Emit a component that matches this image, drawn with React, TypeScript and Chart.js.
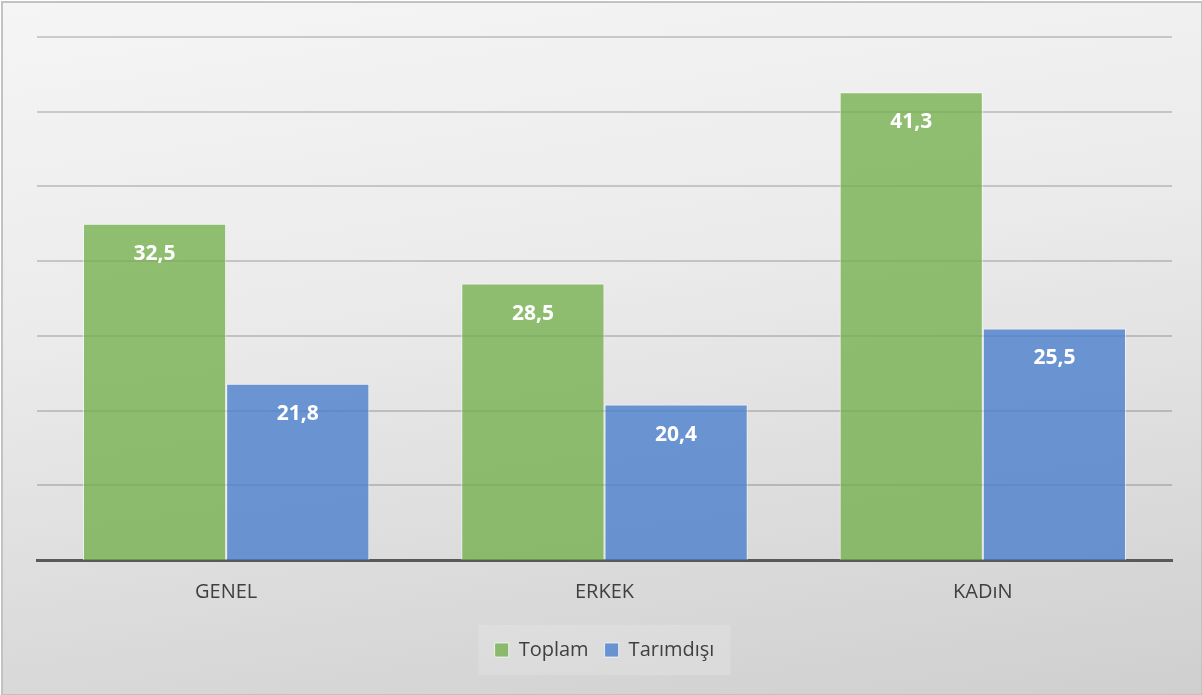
import React, { useEffect, useRef } from "react";
import { Chart, registerables } from "chart.js";

Chart.register(...registerables);

const categories = ["GENEL", "ERKEK", "KADıN"];
const seriesNames = ["Toplam", "Tarımdışı"];
const toplam = [32.5, 28.5, 41.3];
const tarimdisi = [21.8, 20.4, 25.5];
const yMin = 10;
const yMax = 45;
const yStep = 5;

const FONT = "'Open Sans', 'Noto Sans', sans-serif";

const labelPlugin = {
  id: "valueLabels",
  afterDatasetsDraw(chart: any) {
    const ctx = chart.ctx;
    ctx.save();
    ctx.fillStyle = "#ffffff";
    ctx.font = `bold 21px ${FONT}`;
    ctx.textAlign = "center";
    ctx.textBaseline = "middle";
    chart.data.datasets.forEach((ds: any, i: number) => {
      const meta = chart.getDatasetMeta(i);
      meta.data.forEach((bar: any, j: number) => {
        const v = ds.data[j];
        ctx.fillText(String(v).replace(".", ","), bar.x, bar.y + 30);
      });
    });
    ctx.restore();
  },
};

const legendBgPlugin = {
  id: "legendBg",
  beforeDraw(chart: any) {
    const lg = chart.legend;
    if (!lg || !lg.legendHitBoxes || !lg.legendHitBoxes.length) return;
    const hb = lg.legendHitBoxes;
    const ctx = chart.ctx;
    ctx.save();
    ctx.fillStyle = "rgba(255,255,255,0.16)";
    const w = 252;
    const cx = (hb[0].left + hb[hb.length - 1].left + hb[hb.length - 1].width) / 2;
    const cy = hb[0].top + hb[0].height / 2;
    ctx.fillRect(cx - w / 2, cy - 25, w, 50);
    ctx.restore();
  },
};

export default function App() {
  const ref = useRef<HTMLCanvasElement>(null);
  useEffect(() => {
    if (!ref.current) return;
    const chart = new Chart(ref.current, {
      type: "bar",
      data: {
        labels: categories,
        datasets: [
          {
            label: seriesNames[0],
            data: toplam,
            backgroundColor: "rgba(112,173,71,0.75)",
            borderColor: "rgba(255,255,255,0.6)",
            borderWidth: 1,
            categoryPercentage: 0.757,
            barPercentage: 1,
          },
          {
            label: seriesNames[1],
            data: tarimdisi,
            backgroundColor: "rgba(72,124,204,0.78)",
            borderColor: "rgba(255,255,255,0.6)",
            borderWidth: 1,
            categoryPercentage: 0.757,
            barPercentage: 1,
          },
        ],
      },
      options: {
        animation: false,
        responsive: false,
        maintainAspectRatio: false,
        layout: { padding: { left: 37, right: 30, top: 37, bottom: 25 } },
        plugins: {
          tooltip: { enabled: false },
          legend: {
            position: "bottom",
            labels: {
              boxWidth: 14,
              boxHeight: 14,
              padding: 16,
              color: "#404040",
              font: { family: FONT, size: 20 },
              generateLabels: (c: any) =>
                c.data.datasets.map((d: any, i: number) => ({
                  text: d.label,
                  fillStyle: d.backgroundColor,
                  strokeStyle: "rgba(255,255,255,0.7)",
                  lineWidth: 1,
                  fontColor: "#404040",
                  datasetIndex: i,
                })),
            },
          },
        },
        scales: {
          x: {
            grid: { display: false, drawTicks: false },
            border: { display: true, color: "#595959", width: 3 },
            ticks: {
              color: "#404040",
              font: { family: FONT, size: 20 },
              padding: 20,
            },
          },
          y: {
            min: yMin,
            max: yMax,
            ticks: { display: false, stepSize: yStep },
            grid: { color: "rgba(0,0,0,0.17)", lineWidth: 2, drawTicks: false },
            border: { display: false },
          },
        },
      },
      plugins: [legendBgPlugin, labelPlugin],
    });
    return () => chart.destroy();
  }, []);

  return (
    <div
      style={{
        position: "fixed",
        left: 0,
        top: 0,
        width: 1202,
        height: 695,
        background: "#ffffff",
      }}
    >
      <div
        style={{
          position: "absolute",
          left: 1,
          top: 1,
          width: 1198,
          height: 691,
          border: "2px solid #c2c2c2",
          background: "linear-gradient(172deg, #f5f5f5 0%, #ebebeb 40%, #dddddd 70%, #cfcfcf 100%)",
        }}
      />
      <canvas ref={ref} width={1202} height={695} style={{ position: "absolute", left: 0, top: 0 }} />
    </div>
  );
}
